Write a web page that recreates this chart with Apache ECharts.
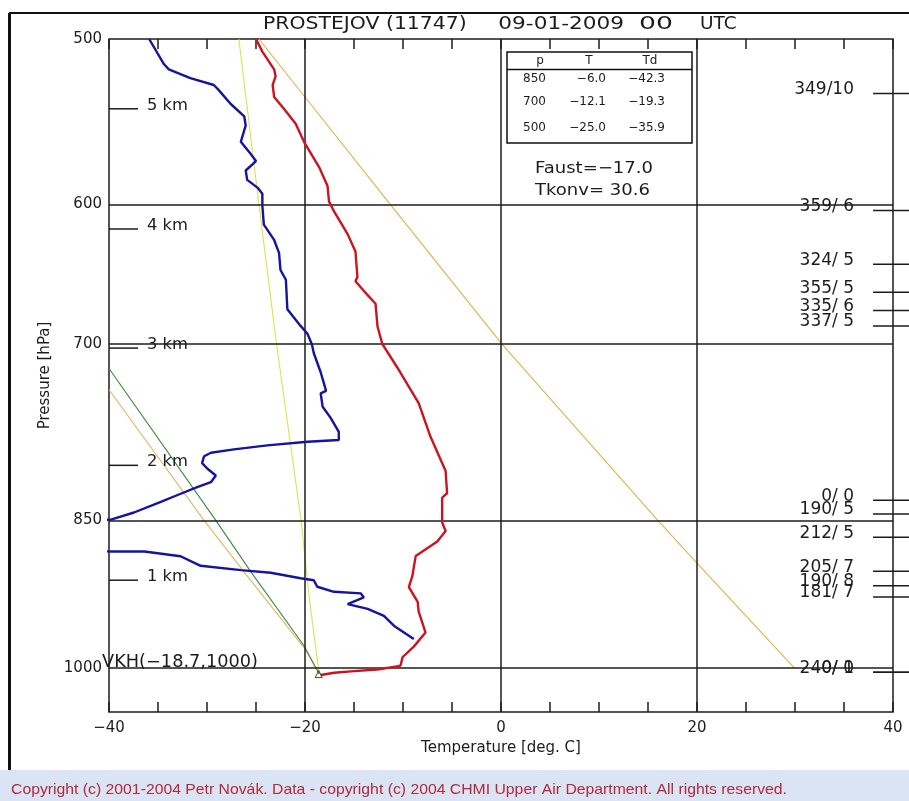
<!DOCTYPE html>
<html><head><meta charset="utf-8">
<script src="https://cdn.jsdelivr.net/npm/echarts@6/dist/echarts.min.js"></script>
<style>html,body{margin:0;padding:0;background:#fff}#c{width:909px;height:801px}</style>
</head><body><div id="c"></div>
<script>
// ---- data (temperature in deg C, pressure in hPa) ----
const tempProfile = [
  [-25.0,500],[-24.35,507],[-23.15,517],[-23.0,521],[-23.3,526],[-23.15,533],[-22.15,540],[-20.95,549],
  [-20.1,560],[-18.55,576],[-17.7,588],[-17.55,598],[-17.05,604.5],[-15.65,620],[-14.85,632],[-14.65,650],
  [-14.85,653],[-14.0,660],[-12.8,669.5],[-12.6,686.5],[-12.1,700],[-10.6,718],[-8.4,747],[-7.2,775],
  [-5.65,805],[-5.5,825],[-6.0,829],[-6.0,852],[-5.65,860],[-6.5,870],[-8.7,884],[-9.05,904],[-9.4,915],
  [-8.5,930],[-8.4,940],[-7.7,962],[-8.9,977],[-10.05,988.5],[-10.2,995.5],[-10.3,998],[-12.6,1002],
  [-15.0,1003.7],[-17.0,1005.5],[-18.4,1008]
];
const dewProfile = [
  [-35.9,500],[-34.4,514],[-33.9,517],[-31.7,522],[-29.3,526],[-28.8,529],[-27.6,537],[-26.2,544.5],
  [-26.05,550],[-26.55,560],[-25.55,567.5],[-25.0,572],[-26.05,578],[-25.9,584],[-24.85,589],[-24.35,593],
  [-24.35,601],[-24.2,613.5],[-23.15,624],[-22.65,633],[-22.5,645],[-21.95,652],[-21.8,673.5],[-20.45,686],
  [-19.75,692],[-19.3,700],[-19.1,707],[-18.4,722],[-17.85,737],[-18.4,739],[-18.2,750],[-17.4,759],
  [-16.55,771],[-16.55,778],[-19.75,779.5],[-23.85,782.6],[-27.25,786],[-29.6,789],[-30.3,792],[-30.5,798],
  [-29.95,803],[-29.1,809],[-29.6,815],[-31.0,819.5],[-33.0,826.6],[-34.65,832.6],[-37.45,842.7],[-39.8,849.4],
  [-42.3,850],[-44.0,865],[-41.0,879.5],[-39.8,879.7],[-36.4,879.7],[-32.7,884.3],[-30.65,893.7],[-26.55,898],
  [-23.5,900.6],[-20.45,906],[-19.1,908],[-18.75,914.6],[-17.05,919.7],[-14.3,921.3],[-14.0,925.4],
  [-15.65,932.3],[-13.6,937.2],[-11.95,944.5],[-10.9,955],[-8.9,968.7]
];
const mixingLine = [[-26.75,500],[-24.7,600],[-22.9,700],[-20.4,850],[-19.55,927],[-18.55,1007]];
const greenLine  = [[-40,719],[-29.1,850],[-25.5,900],[-20.1,976],[-18.55,1007]];
const orangeLine = [[-40,736],[-30.3,850],[-26.2,900],[-20.1,978],[-18.55,1007]];
const convLine   = [[-24.7,500],[-20.0,533],[-11.3,600],[0.1,700],[16.0,850],[20.0,891],[29.9,1000]];
const vkhPoint   = [[-18.6,1007]];
const heightMarks = [[540,'5 km'],[616.5,'4 km'],[703,'3 km'],[800,'2 km'],[908,'1 km']];
const windLabels = [
  [531,'349/10'],[604,'359/ 6'],[641,'324/ 5'],[661,'355/ 5'],[674.5,'335/ 6'],[686,'337/ 5'],
  [831.5,'0/ 0'],[844,'190/ 5'],[866,'212/ 5'],[899,'205/ 7'],[913.5,'190/ 8'],[925,'181/ 7'],
  [1005,'240/ 1'],[1005,'0/ 0']
];
const yTickLabels = [500,600,700,850,1000];
const xGridLines = [-20,0,20];
const yGridLines = [600,700,850,1000];
const tableHeader = ['p','T','Td'];
const tableRows = [['850','−6.0','−42.3'],['700','−12.1','−19.3'],['500','−25.0','−35.9']];
const titleParts = ['PROSTEJOV (11747)','09-01-2009','00','UTC'];
const faustText = 'Faust=−17.0';
const tkonvText = 'Tkonv= 30.6';
const vkhText = 'VKH(−18.7,1000)';
const copyrightText = 'Copyright (c) 2001-2004 Petr Novák. Data - copyright (c) 2004 CHMI Upper Air Department. All rights reserved.';

// ---- styling helpers ----
const FONT = '"DejaVu Sans"';
const INK = '#1c1c1c';
const mctx = document.createElement('canvas').getContext('2d');
function fitText(txt, x, y, size, w, align, family, fill) {
  const font = size + 'px ' + (family || FONT);
  mctx.font = font;
  const mw = mctx.measureText(txt).width || 1;
  return {type:'text', x:x, y:y, scaleX: w / mw, z:10,
    style:{text:txt, font:font, fill:fill || INK, textAlign: align || 'left', textVerticalAlign:'middle'}};
}

const chart = echarts.init(document.getElementById('c'), null, {renderer:'canvas'});
const GL = 109, GT = 39, GW = 784, GH = 673;

const thin = (data, color, z) => ({type:'line', data:data, showSymbol:false, silent:true, z:z||2,
  lineStyle:{color:color, width:1.1}, animation:false});

const graphics = [
  {type:'line', shape:{x1:9, y1:13, x2:909, y2:13}, style:{stroke:'#111', lineWidth:2}},
  {type:'line', shape:{x1:9.5, y1:13, x2:9.5, y2:770}, style:{stroke:'#111', lineWidth:3}},
  {type:'rect', shape:{x:0, y:770, width:909, height:31}, style:{fill:'#dbe4f4'}},
  fitText(copyrightText, 11, 790, 15, 776, 'left', '"Liberation Sans"', '#b02a3a'),
  fitText(titleParts[0], 263, 25, 17, 203.7),
  fitText(titleParts[1], 498.3, 25, 17, 125.7),
  fitText(titleParts[2], 639, 25, 17, 34),
  fitText(titleParts[3], 700, 25, 17, 36.7),
  {type:'rect', shape:{x:507, y:52, width:185, height:91}, style:{fill:'none', stroke:'#111', lineWidth:1.5}, z:10},
  {type:'line', shape:{x1:507, y1:69.5, x2:692, y2:69.5}, style:{stroke:'#111', lineWidth:1.5}, z:10},
  fitText(faustText, 535, 169, 16, 118),
  fitText(tkonvText, 535, 191, 16, 115),
  fitText(vkhText, 102, 662.7, 17, 156)
];
const hdrX = [540, 589, 650];
tableHeader.forEach((t,i)=>graphics.push({type:'text', x:hdrX[i], y:61, z:10,
  style:{text:t, font:'12px '+FONT, fill:INK, textAlign:'center', textVerticalAlign:'middle'}}));
const rowY = [79, 101.7, 128];
const colX = [[523,'left'],[606,'right'],[665,'right']];
tableRows.forEach((r,ri)=>r.forEach((t,ci)=>graphics.push({type:'text', x:colX[ci][0], y:rowY[ri], z:10,
  style:{text:t, font:'12px '+FONT, fill:INK, textAlign:colX[ci][1], textVerticalAlign:'middle'}})));

const option = {
  animation:false,
  backgroundColor:'#fff',
  grid:{left:GL, top:GT, width:GW, height:GH, show:true, borderColor:'#1c1c1c', borderWidth:1.5, containLabel:false},
  xAxis:[
    {type:'value', min:-40, max:40, interval:5, position:'bottom',
     axisLine:{show:false}, axisTick:{inside:true, length:10, lineStyle:{color:INK, width:1.5}},
     axisLabel:{margin:9, fontFamily:'DejaVu Sans', fontSize:15, color:INK,
       formatter:v => (v % 20 === 0) ? String(v).replace('-', '−') : ''},
     splitLine:{show:false},
     name:'Temperature [deg. C]', nameLocation:'middle', nameGap:28,
     nameTextStyle:{fontFamily:'DejaVu Sans', fontSize:15, color:INK}},
    {type:'value', min:-40, max:40, interval:5, position:'top',
     axisLine:{show:false}, axisTick:{inside:true, length:10, lineStyle:{color:INK, width:1.5}},
     axisLabel:{show:false}, splitLine:{show:false}}
  ],
  yAxis:[{type:'log', logBase:10, min:500, max:1050, inverse:true,
    axisLine:{show:false}, axisTick:{show:false}, splitLine:{show:false}, minorTick:{show:false},
    axisLabel:{customValues:yTickLabels, margin:7, fontFamily:'DejaVu Sans', fontSize:15, color:INK,
      formatter:v => String(Math.round(v))},
    name:'Pressure [hPa]', nameLocation:'middle', nameGap:53, nameRotate:90,
    nameTextStyle:{fontFamily:'DejaVu Sans', fontSize:15, color:INK}}],
  series:[
    {type:'line', data:[], silent:true, z:1,
     markLine:{silent:true, symbol:'none', animation:false, label:{show:false},
       lineStyle:{color:INK, width:1.5, type:'solid'},
       data:[...xGridLines.map(v=>({xAxis:v})), ...yGridLines.map(v=>({yAxis:v}))]}},
    thin(convLine, '#e0b24a', 2),
    thin(mixingLine, '#dfe24a', 2),
    thin(orangeLine, '#e2b468', 2),
    thin(greenLine, '#3a8a3a', 3),
    {type:'line', data:dewProfile, showSymbol:false, silent:true, z:5,
     lineStyle:{color:'#1414a0', width:2.4}},
    {type:'line', data:tempProfile, showSymbol:false, silent:true, z:6,
     lineStyle:{color:'#cc1420', width:2.4}},
    {type:'scatter', data:vkhPoint, symbol:'triangle', symbolSize:7, silent:true, z:7,
     itemStyle:{color:'rgba(0,0,0,0)', borderColor:INK, borderWidth:1}},
    {type:'custom', silent:true, z:8, clip:false,
     data:heightMarks.map(d=>[-40, d[0]]), encode:{x:0, y:1},
     renderItem:(params, api)=>{
       const pt = api.coord([-40, api.value(1)]);
       return {type:'group', children:[
         {type:'line', shape:{x1:pt[0], y1:pt[1], x2:pt[0]+29, y2:pt[1]}, style:{stroke:INK, lineWidth:1.5}},
         {type:'text', x:pt[0]+38, y:pt[1]-3, scaleX:1.09,
          style:{text:heightMarks[params.dataIndex][1], font:'15px '+FONT, fill:INK, textAlign:'left', textVerticalAlign:'middle'}}
       ]};
     }},
    {type:'custom', silent:true, z:8, clip:false,
     data:windLabels.map(d=>[40, d[0]]), encode:{x:0, y:1},
     renderItem:(params, api)=>{
       const pt = api.coord([40, api.value(1)]);
       return {type:'group', children:[
         {type:'line', shape:{x1:pt[0]-20, y1:pt[1], x2:pt[0]+16, y2:pt[1]}, style:{stroke:INK, lineWidth:1.5}},
         {type:'text', x:pt[0]-39, y:pt[1]-4,
          style:{text:windLabels[params.dataIndex][1], font:'17px '+FONT, fill:INK, textAlign:'right', textVerticalAlign:'middle'}}
       ]};
     }}
  ],
  graphic:graphics
};
chart.setOption(option);
</script></body></html>
